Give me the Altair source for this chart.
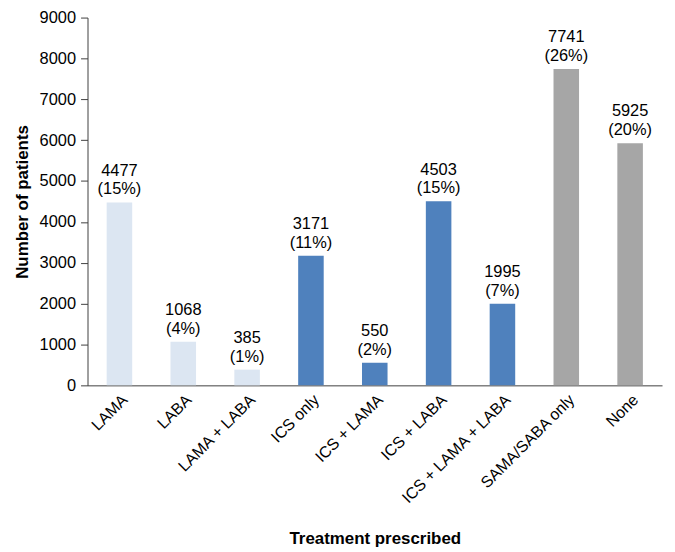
import altair as alt
import pandas as pd

categories = ["LAMA", "LABA", "LAMA + LABA", "ICS only", "ICS + LAMA",
              "ICS + LABA", "ICS + LAMA + LABA", "SAMA/SABA only", "None"]
counts = [4477, 1068, 385, 3171, 550, 4503, 1995, 7741, 5925]
percents = ["15%", "4%", "1%", "11%", "2%", "15%", "7%", "26%", "20%"]
groups = ["bronch", "bronch", "bronch", "ics", "ics", "ics", "ics", "sama", "none"]

df = pd.DataFrame({
    "cat": categories,
    "n": counts,
    "count_lbl": [str(c) for c in counts],
    "pct_lbl": [f"({p})" for p in percents],
    "grp": groups,
})

FONT = "Liberation Sans"
color_scale = alt.Scale(domain=["bronch", "ics", "sama", "none"],
                        range=["#dce6f2", "#4f81bd", "#a6a6a6", "#a6a6a6"])

x = alt.X("cat:N", sort=categories, title="Treatment prescribed",
          scale=alt.Scale(paddingInner=0.6, paddingOuter=0.3),
          axis=alt.Axis(labelAngle=-45, labelFontSize=16, titleFontSize=17,
                        titleFontWeight="bold", labelColor="black", titleColor="black",
                        domainColor="#404040", ticks=False, labelPadding=6,
                        titlePadding=24, labelFont=FONT, titleFont=FONT))
y = alt.Y("n:Q", title="Number of patients",
          scale=alt.Scale(domain=[0, 9000], nice=False),
          axis=alt.Axis(values=list(range(0, 9001, 1000)), format="d", grid=False,
                        labelFontSize=16.5, titleFontSize=17, titleFontWeight="bold",
                        labelColor="black", titleColor="black", domainColor="#404040",
                        tickColor="#404040", tickSize=7, labelPadding=5, titlePadding=8,
                        labelFont=FONT, titleFont=FONT))

bars = alt.Chart(df).mark_bar().encode(
    x=x, y=y,
    color=alt.Color("grp:N", scale=color_scale, legend=None),
)
pct = alt.Chart(df).mark_text(baseline="bottom", dy=-5, fontSize=16.5,
                              font=FONT, color="black").encode(
    x=alt.X("cat:N", sort=categories), y="n:Q", text="pct_lbl:N")
cnt = alt.Chart(df).mark_text(baseline="bottom", dy=-24, fontSize=16.5,
                              font=FONT, color="black").encode(
    x=alt.X("cat:N", sort=categories), y="n:Q", text="count_lbl:N")

chart = (bars + pct + cnt).properties(
    width=578, height=370,
    padding={"left": 5, "top": 0, "right": 5, "bottom": 0},
).configure_view(stroke=None)
chart.save("out.html", embed_options={"renderer": "svg", "actions": False})
